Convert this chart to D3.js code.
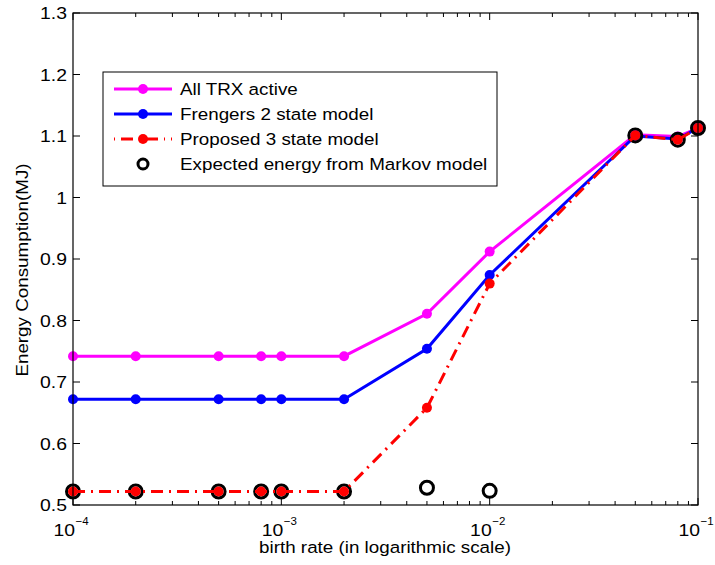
<!DOCTYPE html>
<html>
<head>
<meta charset="utf-8">
<title>Energy Consumption</title>
<script src="https://cdnjs.cloudflare.com/ajax/libs/d3/7.8.5/d3.min.js"></script>
<style>
  body { margin: 0; background: #fff; }
  text { font-family: "Liberation Sans", Arial, sans-serif; fill: #000; }
</style>
</head>
<body>
<svg width="715" height="565" id="chart"></svg>
<script>

// birth rates (x) and energy readings (MJ) for each curve
const birthRates = [1e-4, 2e-4, 5e-4, 8e-4, 1e-3, 2e-3, 5e-3, 1e-2, 5e-2, 8e-2, 1e-1];
const allTrx     = [0.742, 0.742, 0.742, 0.742, 0.742, 0.742, 0.811, 0.912, 1.102, 1.099, 1.113];
const frengers   = [0.672, 0.672, 0.672, 0.672, 0.672, 0.672, 0.754, 0.874, 1.100, 1.095, 1.113];
const proposed   = [0.522, 0.522, 0.522, 0.522, 0.522, 0.522, 0.658, 0.860, 1.101, 1.094, 1.113];
const markov     = [0.522, 0.522, 0.522, 0.522, 0.522, 0.522, 0.528, 0.523, 1.101, 1.094, 1.113];

const yTicks = [0.5, 0.6, 0.7, 0.8, 0.9, 1, 1.1, 1.2, 1.3];
const xTicks = [1e-4, 1e-3, 1e-2, 1e-1];

const margin = {left: 73, right: 17, top: 13, bottom: 60};
const W = 715, H = 565;
const stretch = 1.14; // the original figure's text is a bit wide

const svg = d3.select("#chart");

const x = d3.scaleLog().domain([1e-4, 1e-1]).range([margin.left, W - margin.right]);
const y = d3.scaleLinear().domain([0.5, 1.3]).range([H - margin.bottom, margin.top]);

const x0 = x.range()[0], x1 = x.range()[1];
const y0 = y.range()[0], y1 = y.range()[1];

// text helper, stretched horizontally
function txt(parent, px, py, str, size, anchor, rot, sx) {
  let tr = "translate(" + px + "," + py + ")";
  if (rot) tr += " rotate(" + rot + ")";
  tr += " scale(" + (sx || stretch) + ",1)";
  return parent.append("text").attr("transform", tr)
    .attr("font-size", size).attr("text-anchor", anchor || "start").text(str);
}

// minor ticks for the log axis
let minor = [];
[1e-4, 1e-3, 1e-2].forEach(function(d) {
  for (let k = 2; k <= 9; k++) minor.push(d * k);
});

const axes = svg.append("g").attr("stroke", "#000").attr("stroke-width", 1);

xTicks.forEach(function(t) {
  axes.append("line").attr("x1", x(t)).attr("x2", x(t)).attr("y1", y0).attr("y2", y0 - 7);
  axes.append("line").attr("x1", x(t)).attr("x2", x(t)).attr("y1", y1).attr("y2", y1 + 7);
});
minor.forEach(function(t) {
  axes.append("line").attr("x1", x(t)).attr("x2", x(t)).attr("y1", y0).attr("y2", y0 - 4);
  axes.append("line").attr("x1", x(t)).attr("x2", x(t)).attr("y1", y1).attr("y2", y1 + 4);
});
yTicks.forEach(function(t) {
  axes.append("line").attr("x1", x0).attr("x2", x0 + 7).attr("y1", y(t)).attr("y2", y(t));
  axes.append("line").attr("x1", x1).attr("x2", x1 - 7).attr("y1", y(t)).attr("y2", y(t));
});

// tick labels
const labels = svg.append("g");
yTicks.forEach(function(t) {
  txt(labels, x0 - 6, y(t) + 6, d3.format("")(t), 17, "end");
});
xTicks.forEach(function(t) {
  txt(labels, x(t) + 2, y0 + 31, "10", 17, "end");
  txt(labels, x(t) + 2.5, y0 + 20, "\u2212" + Math.round(-Math.log10(t)), 11.5, "start", null, 1);
});

// axis titles
txt(svg, 385, 553, "birth rate (in logarithmic scale)", 16.5, "middle");
txt(svg, 28, 270, "Energy Consumption(MJ)", 16.5, "middle", -90);

const line = d3.line()
  .x(function(d) { return x(d[0]); })
  .y(function(d) { return y(d[1]); });

const plot = svg.append("g");

function drawSeries(vals, color, dash) {
  const pts = birthRates.map(function(b, i) { return [b, vals[i]]; });
  plot.append("path").datum(pts).attr("d", line)
    .attr("fill", "none").attr("stroke", color).attr("stroke-width", 3)
    .attr("stroke-dasharray", dash || null);
  plot.append("g").selectAll("circle").data(pts).enter().append("circle")
    .attr("cx", function(d) { return x(d[0]); })
    .attr("cy", function(d) { return y(d[1]); })
    .attr("r", 5).attr("fill", color);
}

drawSeries(allTrx, "#ff00ff");
drawSeries(frengers, "#0000ff");

// markov rings go under the red dots
plot.append("g").selectAll("circle")
  .data(birthRates.map(function(b, i) { return [b, markov[i]]; }))
  .enter().append("circle")
  .attr("cx", function(d) { return x(d[0]); })
  .attr("cy", function(d) { return y(d[1]); })
  .attr("r", 6.5).attr("fill", "none").attr("stroke", "#000").attr("stroke-width", 3);

drawSeries(proposed, "#ff0000", "12,6,2,6");

// axes box
svg.append("rect").attr("x", x0).attr("y", y1).attr("width", x1 - x0).attr("height", y0 - y1)
  .attr("fill", "none").attr("stroke", "#000").attr("stroke-width", 1.2);

// legend
const lg = svg.append("g");
lg.append("rect").attr("x", 103).attr("y", 72).attr("width", 394).attr("height", 114)
  .attr("fill", "#fff").attr("stroke", "#000").attr("stroke-width", 1);

const legendItems = [
  {label: "All TRX active", color: "#ff00ff", kind: "line"},
  {label: "Frengers 2 state model", color: "#0000ff", kind: "line"},
  {label: "Proposed 3 state model", color: "#ff0000", kind: "dash"},
  {label: "Expected energy from Markov model", color: "#000", kind: "ring"}
];
legendItems.forEach(function(it, i) {
  const ly = 89 + i * 25;
  if (it.kind !== "ring") {
    lg.append("line").attr("x1", 114).attr("x2", 172).attr("y1", ly).attr("y2", ly)
      .attr("stroke", it.color).attr("stroke-width", 3)
      .attr("stroke-dasharray", it.kind === "dash" ? "1,6,12,6" : null);
    lg.append("circle").attr("cx", 143).attr("cy", ly).attr("r", 5).attr("fill", it.color);
  } else {
    lg.append("circle").attr("cx", 143).attr("cy", ly).attr("r", 5)
      .attr("fill", "none").attr("stroke", "#000").attr("stroke-width", 3);
  }
  txt(lg, 180, ly + 6, it.label, 16.5, "start");
});

</script>
</body>
</html>
